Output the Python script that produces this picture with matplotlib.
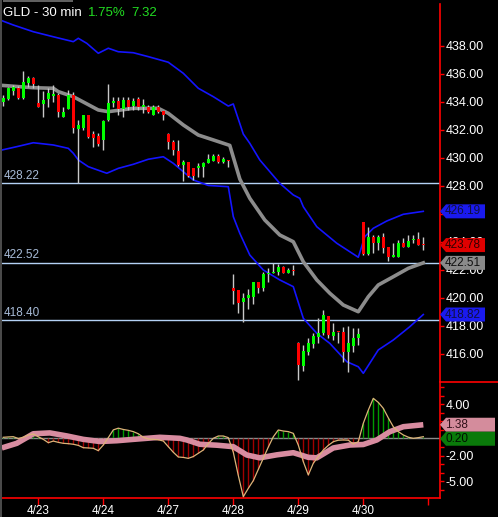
import numpy as np
import matplotlib.pyplot as plt
from matplotlib.patches import Polygon, Rectangle
from matplotlib.lines import Line2D
from matplotlib.transforms import IdentityTransform, blended_transform_factory
from matplotlib.ticker import FormatStrFormatter

plt.rcParams['font.family'] = ['Liberation Sans', 'DejaVu Sans']
plt.rcParams['axes.unicode_minus'] = False

# 30 min bars, 4/22 afternoon .. 4/30
opens = [434.02, 434.21, 434.79, 435.02, 434.26, 435.34, 435.74, 433.95, 433.86, 434.21,
         434.43, 434.50, 432.95, 433.52, 434.50, 432.09, 432.12, 433.07, 431.71, 431.57,
         431.29, 432.71, 433.96, 434.07, 433.52, 434.14, 433.71, 434.19, 433.66, 433.66,
         433.07, 433.66, 433.36, 431.71, 431.16, 430.50, 429.50, 429.74, 429.29, 429.29,
         429.38, 429.62, 429.81, 430.16, 429.74, 429.86, 420.74, 420.57, 419.74, 419.98,
         420.09, 421.12, 420.69, 421.71, 421.82, 421.88, 422.24, 421.81, 422.00, 416.76,
         415.14, 416.16, 416.69, 417.24, 417.48, 418.71, 417.31, 417.60, 417.55, 416.16,
         416.59, 417.12, 425.45, 423.14, 424.34, 423.91, 424.38, 423.66, 422.95, 422.95,
         423.95, 423.66, 424.14, 424.24, 423.84]
closes = [434.26, 435.00, 435.07, 434.26, 435.45, 435.74, 435.29, 433.62, 434.14, 434.64,
          434.55, 433.31, 433.29, 434.50, 432.12, 432.36, 433.07, 431.52, 431.45, 431.00,
          432.66, 433.93, 434.07, 433.52, 434.14, 433.64, 434.09, 433.66, 433.79, 433.31,
          433.66, 433.31, 433.07, 431.16, 430.57, 429.50, 429.74, 428.74, 428.74, 429.43,
          429.64, 429.93, 430.16, 429.74, 429.93, 429.81, 420.50, 419.66, 420.02, 420.21,
          421.12, 420.69, 421.69, 421.81, 421.86, 422.24, 421.81, 422.00, 421.95, 415.21,
          416.21, 416.76, 417.29, 417.48, 418.79, 417.36, 417.55, 417.55, 416.16, 416.76,
          417.16, 417.43, 423.14, 424.34, 423.91, 424.38, 423.59, 422.91, 423.05, 423.95,
          423.66, 424.07, 424.24, 423.79, 423.78]
highs = [434.50, 435.09, 435.21, 435.14, 436.24, 435.86, 435.79, 435.21, 434.79, 435.00,
         435.21, 434.64, 433.66, 434.86, 434.71, 432.71, 433.10, 433.10, 431.93, 431.79,
         432.71, 435.29, 434.38, 434.38, 434.38, 434.36, 434.29, 434.36, 434.21, 433.79,
         433.79, 433.79, 433.36, 431.81, 431.29, 431.29, 429.86, 429.74, 429.29, 429.64,
         429.69, 430.29, 430.29, 430.29, 430.05, 429.86, 421.71, 420.60, 420.38, 420.64,
         421.16, 421.16, 421.88, 422.12, 422.48, 422.41, 422.30, 422.16, 422.36, 416.84,
         416.64, 417.12, 417.48, 418.55, 419.14, 418.71, 418.19, 417.60, 417.95, 418.00,
         417.84, 417.84, 425.45, 425.09, 424.50, 424.50, 424.62, 423.66, 423.91, 424.14,
         424.29, 424.50, 424.50, 424.74, 424.38]
lows = [433.71, 434.14, 434.50, 434.25, 434.25, 435.07, 435.00, 433.62, 432.95, 433.64,
        434.00, 432.93, 432.93, 433.52, 431.81, 428.19, 432.00, 431.43, 430.81, 430.86,
        430.57, 432.64, 433.66, 433.07, 432.95, 433.43, 433.43, 433.43, 433.21, 433.21,
        433.07, 433.21, 432.71, 430.62, 430.21, 429.45, 428.36, 428.64, 428.43, 428.64,
        428.64, 429.62, 429.79, 429.64, 429.64, 429.38, 419.57, 418.95, 418.31, 419.21,
        419.57, 420.34, 420.52, 421.16, 421.81, 421.64, 421.81, 421.76, 421.64, 414.14,
        414.79, 415.93, 416.41, 416.76, 417.36, 417.12, 417.00, 416.79, 415.45, 414.74,
        416.16, 416.64, 423.07, 423.07, 423.19, 423.43, 423.19, 422.66, 422.91, 422.91,
        423.66, 423.66, 423.91, 423.79, 423.43]

# moving average and bands, read at bar positions
ma_x = [0, 6, 10, 11, 14, 19, 21, 26, 31, 33, 36, 39, 42, 45.3, 47.3, 49.3, 52.3, 55.3,
        58, 60, 62.7, 65.3, 68, 71, 73, 75, 78, 81, 84]
ma_y = [435.18, 435.02, 434.98, 434.74, 434.38, 433.43, 433.31, 433.55, 433.55, 433.19,
        432.36, 431.64, 431.29, 430.90, 428.50, 427.12, 425.57, 424.50, 424.02, 422.59,
        421.29, 420.34, 419.50, 419.02, 420.09, 420.93, 421.52, 422.12, 422.51]
up_x = [-0.3, 2, 6, 10, 14, 15, 16.7, 19, 21, 23, 26, 29, 33, 36, 39, 42, 45, 46, 48, 49.3,
        51.3, 55.3, 58, 59.3, 60, 62.7, 66.7, 71, 72.3, 74, 76.7, 80, 84]
up_y = [439.81, 439.50, 439.02, 438.66, 438.31, 438.55, 438.19, 437.48, 437.84, 437.59,
        437.52, 437.24, 436.84, 436.05, 434.98, 434.38, 433.71, 433.86, 431.71, 431.05,
        429.86, 428.19, 427.36, 427.12, 426.52, 425.09, 423.91, 422.91, 424.38, 424.98,
        425.50, 425.98, 426.19]
lo_x = [-0.3, 2.7, 6, 10, 13, 14, 15, 17, 20.7, 23, 26, 29, 32, 34, 36, 38, 41, 45, 46,
        47.3, 49.3, 52, 55.3, 58, 60, 62.7, 65.3, 68.7, 71, 72, 75, 78, 81.3, 84]
lo_y = [430.57, 430.81, 431.09, 430.93, 430.69, 430.34, 429.86, 429.38, 428.91, 429.26,
        429.55, 429.91, 430.09, 429.62, 429.02, 428.43, 428.04, 427.95, 425.81, 424.62,
        423.07, 422.00, 421.29, 420.81, 418.55, 417.48, 416.76, 415.45, 415.09, 414.62,
        416.29, 417.00, 417.95, 418.82]
levels = [428.22, 422.52, 418.40]

macd = [0.14, 0.18, 0.21, 0.0, 0.15, 0.4, 0.52, 0.2, -0.1, -0.49,
        -0.3, -0.45, -0.56, -0.6, -0.67, -0.8, -1.07, -1.1, -1.14, -1.41,
        -0.76, 0.1, 1.0, 1.2, 1.05, 0.95, 0.8, 0.55, 0.15, -0.06,
        -0.1, -0.15, -0.29, -0.95, -1.6, -2.15, -2.2, -2.31, -2.1, -1.72,
        -1.34, -0.6, 0.02, 0.29, 0.29, 0.1, -1.6, -4.3, -6.77, -5.8,
        -4.9, -3.6, -2.3, -1.0, 0.2, 0.99, 0.87, 0.8, 0.6, -0.76,
        -2.7, -4.24, -2.88, -2.1, -1.34, -0.8, -0.37, -0.2, -0.17, -0.2,
        -0.64, -0.37, 1.77, 3.3, 4.67, 4.2, 3.51, 2.4, 1.37, 0.8,
        0.41, 0.15, 0.02, 0.1, 0.21]
sig_x = [-0.3, 2.7, 6, 9.3, 12.7, 16, 19.3, 22.7, 26, 31.3, 35.3, 36.7, 39.3, 42.7, 46,
         48.7, 51.3, 54.7, 58, 61, 62.7, 66, 69.3, 72, 74.7, 77.3, 80, 84]
sig_y = [-1.1, -0.56, 0.55, 0.65, 0.3, -0.1, -0.35, -0.26, -0.1, 0.14, 0.02, -0.17, -0.67,
         -0.78, -0.95, -1.92, -2.25, -1.9, -1.65, -2.19, -2.25, -1.1, -0.76, -0.7, -0.17,
         0.79, 1.37, 1.6]

day_pos = [7, 20, 33, 46, 59, 72, 85]
day_lbl = ['4/23', '4/24', '4/27', '4/28', '4/29', '4/30', '']

W, H = 498, 517
fig = plt.figure(figsize=(W / 100, H / 100), dpi=100, facecolor='black')


def px_axes(l, t, r, b):
    return fig.add_axes([l / W, 1 - b / H, (r - l) / W, (b - t) / H])


ax = px_axes(2, 4, 440, 382)
mx = px_axes(2, 382, 440, 498)
for a in (ax, mx):
    a.set_facecolor('black')
    a.set_xlim(-0.26, 87.34)
    for s in a.spines.values():
        s.set_visible(False)
    a.spines['right'].set_visible(True)
    a.spines['right'].set_color('red')
    a.spines['right'].set_linewidth(1.2)
    a.yaxis.tick_right()

# price panel
x = np.arange(len(opens))
o = np.array(opens)
c = np.array(closes)
cols = np.where(c >= o, '#00ff00', '#ff0000')
ax.vlines(x, lows, highs, color='#c8c8c8', lw=1, zorder=3)
ax.bar(x, np.maximum(np.abs(c - o), 0.07), bottom=np.minimum(o, c), width=0.62,
       color=cols, lw=0, zorder=4)
ax.plot(up_x, up_y, color='#1414ff', lw=1.2, zorder=2)
ax.plot(lo_x, lo_y, color='#1414ff', lw=1.2, zorder=2)
ax.plot(ma_x, ma_y, color='#8c8c8c', lw=2.6, zorder=2)
lt = blended_transform_factory(ax.transAxes, ax.transData)
for lv in levels:
    ax.axhline(lv, color='#b4d2f5', lw=1, zorder=1)
    ax.text(0.003, lv + 0.1, f'{lv:.2f}', transform=lt, color='#a8bcd8',
            fontsize=8.5, va='bottom', ha='left')
ax.set_ylim(414, 441)
ax.set_yticks(np.arange(416, 439, 2))
ax.yaxis.set_major_formatter(FormatStrFormatter('%.2f'))
ax.tick_params(axis='y', colors='red', labelcolor='white', length=3, width=1,
               labelsize=9, pad=1)
ax.tick_params(axis='x', bottom=False, labelbottom=False)

# macd panel
mv = np.array(macd)
hcols = np.where(mv >= 0, '#009a00', '#a00000')
mx.axhline(0, color='#8a8a8a', lw=1, zorder=1)
mx.vlines(x, 0, mv, colors=hcols, lw=1, zorder=2)
mx.plot(sig_x, sig_y, color='#d88ca0', lw=4, solid_capstyle='butt', zorder=3)
mx.plot(x, mv, color='#dcb478', lw=0.9, zorder=4)
mx.set_ylim(-6.92, 6.57)
mx.set_yticks([4, -2, -5])
mx.set_yticks(np.arange(-6, 7), minor=True)
mx.yaxis.set_major_formatter(FormatStrFormatter('%.2f'))
mx.tick_params(axis='y', which='both', colors='red', labelcolor='white', length=3,
               width=1, labelsize=9, pad=1)
mx.spines['bottom'].set_visible(True)
mx.spines['bottom'].set_color('red')
mx.spines['bottom'].set_linewidth(1.2)
mx.set_xticks(day_pos)
mx.set_xticklabels(day_lbl)
mx.tick_params(axis='x', colors='red', labelcolor='white', length=5, width=1,
               labelsize=8.5, pad=0)

fig.add_artist(Line2D([440 / W, 1], [1 - 382 / H] * 2, color='red', lw=1.2))
fig.add_artist(Rectangle((0, 0), 1.5 / W, 1, fc='#4a4a4a', ec='none'))
fig.add_artist(Rectangle((3 / W, 1 - 2 / H), 70 / W, 2 / H, fc='#606060', ec='none'))

fig.text(3 / W, 1 - 13 / H, 'GLD - 30 min', color='white', fontsize=9.5, va='center')
fig.text(88 / W, 1 - 13 / H, '1.75%', color='#22dd22', fontsize=9.5, va='center')
fig.text(131 / W, 1 - 13 / H, '7.32', color='#22dd22', fontsize=9.5, va='center')


def tag(axis, val, text, fc, tc, width=45, dy=0):
    xr = axis.transAxes.transform((1, 0))[0]
    yc = axis.transData.transform((0, val))[1] + dy
    hh = 7
    verts = [(xr, yc), (xr + 6, yc + hh), (xr + width, yc + hh),
             (xr + width, yc - hh), (xr + 6, yc - hh)]
    fig.add_artist(Polygon(verts, closed=True, transform=IdentityTransform(),
                           fc=fc, ec='none', zorder=10))
    fig.text(xr + 5, yc, text, transform=IdentityTransform(), color=tc,
             fontsize=8.5, va='center', ha='left', zorder=11)
    return yc


tag(ax, up_y[-1], '426.19', '#1a1aee', '#101040')
tag(ax, closes[-1], '423.78', '#e00000', '#300000')
tag(ax, ma_y[-1], '422.51', '#8a8a8a', '#101010')
tag(ax, lo_y[-1], '418.82', '#1a1aee', '#101040')
tag(mx, sig_y[-1], '1.38', '#d48c9c', '#301018', width=55)
tag(mx, sig_y[-1], '0.20', '#0a7a0a', '#001000', width=55, dy=-14)

fig.savefig('out.png', dpi=100, facecolor='black')
